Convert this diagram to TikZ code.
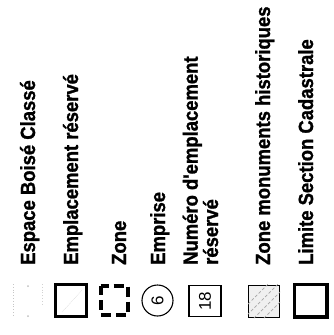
\documentclass[tikz,border=0pt]{standalone}
\usepackage{fontspec}
\setmainfont{Liberation Sans}
\newfontfamily\lblfont{Liberation Sans}[UprightFont={* Bold}, FakeBold=1.2, FakeStretch=0.9]
\tikzset{
  lbl/.style={rotate=90, anchor=base west, inner sep=0pt, font=\fontsize{20.5}{17}\lblfont},
  thickbox/.style={draw, line width=3.6pt},
  num/.style={rotate=90, inner sep=0pt, font=\fontsize{17}{17}\selectfont}
}
\begin{document}
\begin{tikzpicture}[x=1pt,y=-1pt]
\useasboundingbox (0,0) rectangle (333,335);
% labels
\node[lbl] (t1) at (35,265) {Espace Boisé Classé};
\node[lbl] (t2) at (78,265) {Emplacement réservé};
\node[lbl] (t3) at (126,265) {Zone};
\node[lbl] (t4) at (165,265) {Emprise};
\node[lbl, align=left] (t5) at (218,265) {Numéro d'emplacement\\réservé};
\node[lbl] (t6) at (270,265) {Zone monuments historiques};
\node[lbl] (t7) at (313,265) {Limite Section Cadastrale};
% symbols
% 1 espace boise
\draw[gray!45, line width=0.8pt, dotted] (13,284) -- (13,316);
\draw[gray!35, line width=0.8pt, dotted] (42,284) -- (42,306);
\fill[gray!50] (28,286) circle (1pt) (28,316) circle (1pt);
% 2 emplacement
\draw[thickbox] (55.5,284.5) rectangle (86.5,316.5);
\draw[gray!40, line width=0.5pt, densely dotted] (62,312) -- (82,290);
% 3 zone
\draw[line width=4pt, dash pattern=on 10pt off 5pt, dash phase=2pt] (100.5,285.5) -- (127.5,285.5) -- (127.5,314.5) -- (100.5,314.5) -- cycle;
% 4 emprise
\node[draw, circle, line width=1.1pt, minimum size=31pt, inner sep=0pt] (c6) at (157.5,300.5) {};
\node[num] (n6) at (c6) {6};
% 5 numero
\node[draw, line width=1.6pt, minimum width=32pt, minimum height=31pt, inner sep=0pt] (b18) at (205,301) {};
\node[num] (n18) at (b18) {18};
% 6 zone monuments
\node[draw, line width=1.3pt, fill=gray!12, minimum width=31pt, minimum height=32pt, inner sep=0pt] (bz) at (264,301.5) {};
\begin{scope}
\clip (bz.south west) rectangle (bz.north east);
\foreach \d in {-14,-4,6,16}
  \draw[gray!70, line width=0.7pt, densely dashed] ([shift={(\d,0)}]bz.south west) -- ++(34,-34);
\end{scope}
% 7 limite
\draw[thickbox] (294.5,284.5) rectangle (327,317);
\end{tikzpicture}
\end{document}
